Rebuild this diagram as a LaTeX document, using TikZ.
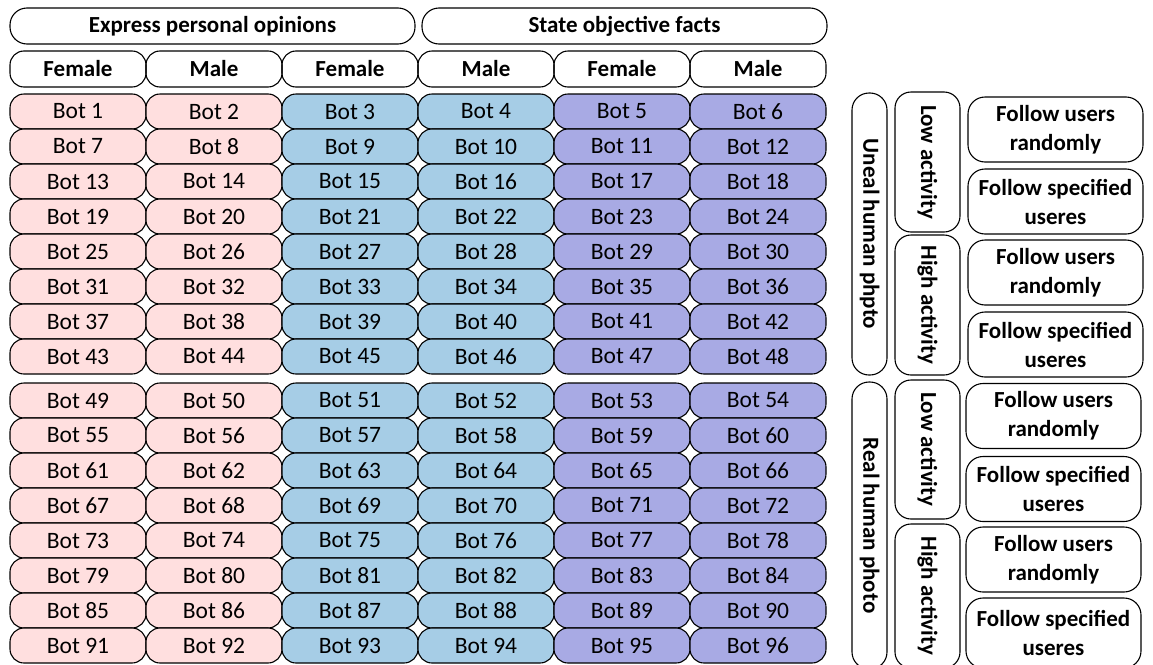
\documentclass[tikz,border=0pt]{standalone}
\usepackage{fontspec}
\setmainfont{Carlito}
\definecolor{pinkf}{RGB}{255,223,223}
\definecolor{bluef}{RGB}{166,205,230}
\definecolor{purpf}{RGB}{168,170,228}
\begin{document}
\begin{tikzpicture}[x=1pt,y=-1pt,
  cell/.style={draw=black, line width=1.1pt, rounded corners=14pt, inner sep=0pt,
    minimum width=136pt, minimum height=35pt, font=\fontsize{23.5}{26}\selectfont},
  head/.style={draw=black, line width=1.1pt, rounded corners=16pt, inner sep=0pt,
    minimum height=36pt, font=\bfseries\fontsize{23}{26}\selectfont},
  vbox/.style={draw=black, line width=1.1pt, rounded corners=16pt, inner sep=0pt,
    rotate=-90, font=\bfseries\fontsize{23}{26}\selectfont},
  fbox/.style={draw=black, line width=1.1pt, rounded corners=17pt, inner sep=0pt,
    minimum width=175pt, minimum height=65pt, align=center,
    font=\bfseries\fontsize{23}{29}\selectfont}
]
\useasboundingbox (0,0) rectangle (1153,664);
% top headers
\node[head, minimum width=405pt, rounded corners=17pt] (hexp) at (212.5,26) {Express personal opinions};
\node[head, minimum width=405pt, rounded corners=17pt] (hsta) at (624.5,26) {State objective facts};
% gender headers
\foreach \c/\t in {0/Female,1/Male,2/Female,3/Male,4/Female,5/Male}{
  \node[head, minimum width=136pt, rounded corners=14pt] (g\c) at (78+136*\c,69) {\t};
}
% bot cells
\foreach \r in {0,...,15}{
  \foreach \c in {0,...,5}{
    \pgfmathtruncatemacro{\n}{6*\r+\c+1}
    \pgfmathsetmacro{\yc}{\r<8 ? 111.5+35*\r : 400.5+35*(\r-8)}
    \pgfmathtruncatemacro{\grp}{int(\c/2)}
    \ifcase\grp
      \def\fc{pinkf}\or\def\fc{bluef}\or\def\fc{purpf}\fi
    \node[cell, fill=\fc] (b\n) at (78+136*\c,\yc) {Bot \n};
  }
}
% right side
\node[vbox, minimum width=282pt, minimum height=35pt, rounded corners=17pt] (uneal) at (869.5,234) {Uneal human phpto};
\node[vbox, minimum width=287pt, minimum height=35pt, rounded corners=17pt] (real) at (869.5,525.5) {Real human photo};
\node[vbox, minimum width=140pt, minimum height=65pt] (low1) at (927.5,162) {Low activity};
\node[vbox, minimum width=140pt, minimum height=65pt] (high1) at (927.5,305) {High activity};
\node[vbox, minimum width=139pt, minimum height=65pt] (low2) at (927.5,449.5) {Low activity};
\node[vbox, minimum width=144pt, minimum height=65pt] (high2) at (927.5,596) {High activity};
\node[fbox] (f1) at (1055.5,129.5) {Follow users\\randomly};
\node[fbox] (f2) at (1055.5,201.5) {Follow specified\\useres};
\node[fbox] (f3) at (1055.5,272.5) {Follow users\\randomly};
\node[fbox] (f4) at (1055.5,344.5) {Follow specified\\useres};
\node[fbox] (f5) at (1053.5,416) {Follow users\\randomly};
\node[fbox] (f6) at (1053.5,489) {Follow specified\\useres};
\node[fbox] (f7) at (1053.5,559.5) {Follow users\\randomly};
\node[fbox, minimum height=70pt] (f8) at (1053.5,633) {Follow specified\\useres};
\end{tikzpicture}
\end{document}
